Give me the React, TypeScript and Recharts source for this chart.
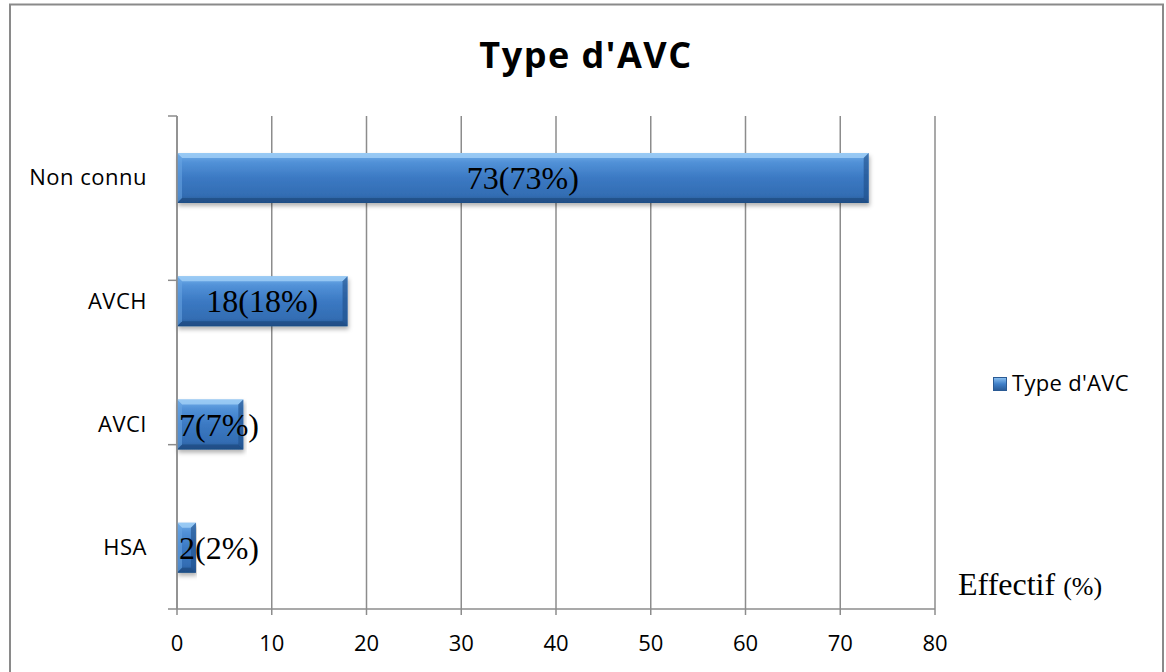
import React from "react"
import { BarChart, Bar, XAxis, YAxis, CartesianGrid, LabelList } from "recharts"

// categories (top to bottom) and values
const categories = ["Non connu", "AVCH", "AVCI", "HSA"]
const effectifs = [73, 18, 7, 2]
const percents = [73, 18, 7, 2]
const xTicks = [0, 10, 20, 30, 40, 50, 60, 70, 80]
const catBoundaries = [0, 1, 2, 3, 4]

const seriesName = "Type d'AVC"
const GRID = "#8c8c8c"
const SANS = "'Open Sans', sans-serif"
const SERIF = "'Liberation Serif', 'Times New Roman', serif"

const data = categories.map((name, i) => ({ name, value: effectifs[i], pct: percents[i] }))

let measureCtx = null
const measure = (text, font) => {
  if (!measureCtx) measureCtx = document.createElement("canvas").getContext("2d")
  measureCtx.font = font
  return measureCtx.measureText(text).width
}

// bar with a bevelled look
const BevelBar = (props) => {
  const { x, y, width, height } = props
  if (!width || width <= 0) return null
  const b = Math.min(5, width / 3, height / 4)
  const r = x + width
  const bt = y + height
  return (
    <g filter="url(#barShadow)">
      <rect x={x} y={y} width={width} height={height} fill="url(#barGrad)" />
      <polygon points={`${x},${y} ${r},${y} ${r - b},${y + b} ${x + b},${y + b}`} fill="#a6d3f8" opacity={0.75} />
      <polygon points={`${x},${bt} ${r},${bt} ${r - b},${bt - b} ${x + b},${bt - b}`} fill="#1d4a80" opacity={0.7} />
      <polygon points={`${x},${y} ${x + b},${y + b} ${x + b},${bt - b} ${x},${bt}`} fill="#6aa6e3" opacity={0.55} />
      <polygon points={`${r},${y} ${r - b},${y + b} ${r - b},${bt - b} ${r},${bt}`} fill="#1f4f88" opacity={0.6} />
    </g>
  )
}

const BarLabel = (props) => {
  const { x, y, width, height, index } = props
  const text = `${effectifs[index]}(${percents[index]}%)`
  const font = `32px ${SERIF}`
  const tw = measure(text, font)
  const cx = x + width / 2
  const startX = Math.max(cx - tw / 2, x + 2)
  return (
    <text x={startX} y={y + height / 2 + 11} fontFamily={SERIF} fontSize={32} fill="#000" textAnchor="start">
      {text}
    </text>
  )
}

const NoTick = () => <g />

export default function App() {
  return (
    <div style={{ position: "absolute", left: 0, top: 0, width: 1166, height: 672, background: "#fff", overflow: "hidden" }}>
      <BarChart
        width={1166}
        height={672}
        data={data}
        layout="vertical"
        margin={{ top: 116, right: 231, bottom: 0, left: 18 }}
        barSize={50}
      >
        <defs>
          <linearGradient id="barGrad" x1="0" y1="0" x2="0" y2="1">
            <stop offset="0%" stopColor="#74b0ea" />
            <stop offset="18%" stopColor="#5292d8" />
            <stop offset="50%" stopColor="#3b79c3" />
            <stop offset="85%" stopColor="#336db3" />
            <stop offset="100%" stopColor="#255791" />
          </linearGradient>
          <filter id="barShadow" x="-5%" y="-20%" width="110%" height="160%">
            <feDropShadow dx="1" dy="3" stdDeviation="2" floodColor="#000" floodOpacity="0.3" />
          </filter>
        </defs>
        <CartesianGrid horizontal={false} stroke={GRID} strokeWidth={1.5} />
        <XAxis
          type="number"
          domain={[0, 80]}
          ticks={xTicks}
          interval={0}
          height={63}
          tickSize={6}
          tickMargin={20}
          axisLine={{ stroke: GRID, strokeWidth: 1.5 }}
          tickLine={{ stroke: GRID, strokeWidth: 1.5 }}
          tick={{ fill: "#000", fontSize: 22, fontFamily: SANS }}
        />
        <YAxis
          yAxisId="a"
          type="number"
          domain={[0, 4]}
          ticks={catBoundaries}
          interval={0}
          width={9}
          tickSize={9}
          tick={NoTick}
          axisLine={{ stroke: GRID, strokeWidth: 1.5 }}
          tickLine={{ stroke: GRID, strokeWidth: 1.5 }}
        />
        <YAxis
          yAxisId="b"
          type="category"
          dataKey="name"
          width={150}
          tickSize={0}
          tickMargin={21}
          axisLine={false}
          tickLine={false}
          tick={{ fill: "#000", fontSize: 22, fontFamily: SANS, letterSpacing: 0.5 }}
        />
        <Bar yAxisId="b" dataKey="value" name={seriesName} shape={<BevelBar />} isAnimationActive={false}>
          <LabelList dataKey="value" content={<BarLabel />} />
        </Bar>
      </BarChart>
      <svg width={1166} height={672} style={{ position: "absolute", left: 0, top: 0, pointerEvents: "none" }}>
        <defs>
          <linearGradient id="legendGrad" x1="0" y1="0" x2="0" y2="1">
            <stop offset="0%" stopColor="#8cc2f2" />
            <stop offset="50%" stopColor="#3f7fc8" />
            <stop offset="100%" stopColor="#285a96" />
          </linearGradient>
        </defs>
        <rect x={10} y={4.5} width={1153} height={720} fill="none" stroke="#8a8a8a" strokeWidth={2} />
        <text x={586} y={68} textAnchor="middle" fontFamily={SANS} fontWeight="bold" fontSize={36} letterSpacing={1.5} fill="#000">
          {seriesName}
        </text>
        <rect x={993.5} y={377.5} width={13} height={13} fill="url(#legendGrad)" stroke="#2a5a94" />
        <text x={1012} y={391} fontFamily={SANS} fontSize={22} letterSpacing={0.3} fill="#000">
          {seriesName}
        </text>
        <text x={958} y={595} fontFamily={SERIF} fill="#000">
          <tspan fontSize={32}>Effectif </tspan>
          <tspan fontSize={26}>(%)</tspan>
        </text>
      </svg>
    </div>
  )
}
